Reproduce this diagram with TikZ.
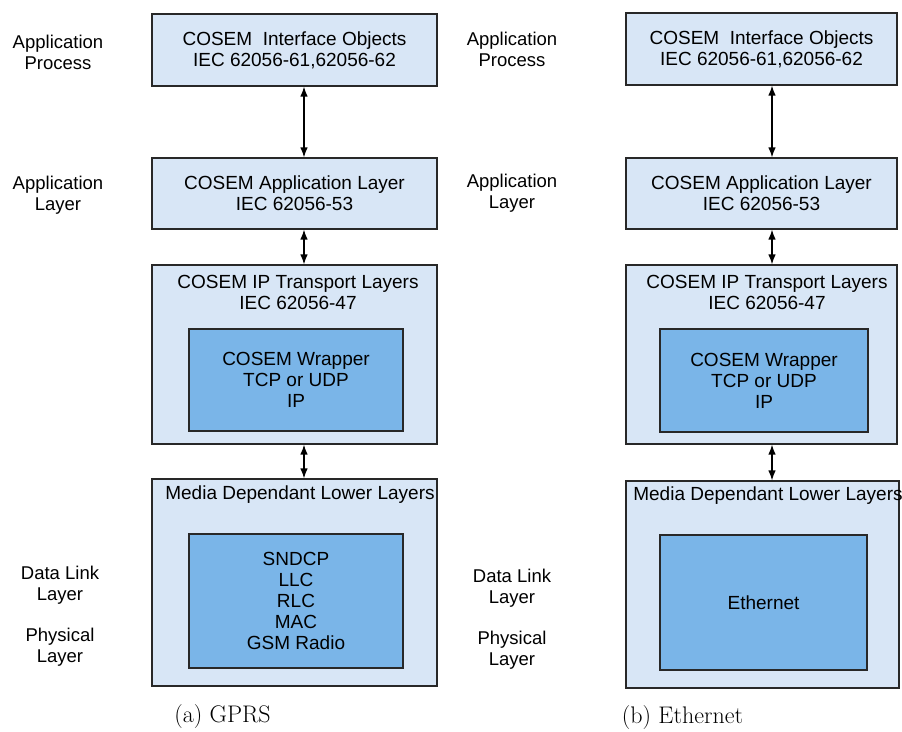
\documentclass[tikz,border=0pt]{standalone}
\usepackage{fontspec}
\newfontfamily\helv{Liberation Sans}
\usetikzlibrary{arrows.meta}
\definecolor{outerfill}{RGB}{216,230,246}
\definecolor{innerfill}{RGB}{122,181,232}
\definecolor{edgecol}{RGB}{40,40,40}
\tikzset{
  boxtext/.style={inner sep=0pt, align=center, font=\helv\fontsize{19}{21}\selectfont},
  labeltext/.style={inner sep=0pt, align=center, font=\helv\fontsize{18.5}{21}\selectfont},
  captext/.style={inner sep=0pt, font=\fontsize{24}{28}\selectfont},
  outerbox/.style={boxtext, draw=edgecol, fill=outerfill, line width=1.1pt, rectangle},
  innerbox/.style={boxtext, draw=edgecol, fill=innerfill, line width=1.1pt, rectangle},
  conn/.style={{Latex[length=10pt,width=7.5pt]}-{Latex[length=10pt,width=7.5pt]}, line width=1.3pt, black}
}
\begin{document}
\begin{tikzpicture}[x=1pt,y=-1pt]
\useasboundingbox (0,0) rectangle (902,731);
\fill[white] (0,0) rectangle (902,731);

% ---------- Left panel (GPRS) ----------
\node[outerbox, minimum width=285pt, minimum height=72pt] (L1) at (294.5,50)
  {COSEM\ \ Interface Objects\\IEC 62056-61,62056-62};
\node[outerbox, minimum width=285pt, minimum height=71pt] (L2) at (294.5,193.5)
  {COSEM Application Layer\\IEC 62056-53};
\node[outerbox, minimum width=285pt, minimum height=179pt] (L3) at (294.5,354.5) {};
\node[boxtext] (L3t) at (298,292) {COSEM IP Transport Layers\\IEC 62056-47};
\node[innerbox, minimum width=214pt, minimum height=102pt] (L3i) at (296,380)
  {COSEM Wrapper\\TCP or UDP\\IP};
\node[outerbox, minimum width=285pt, minimum height=207pt] (L4) at (294.5,582.5) {};
\node[boxtext] (L4t) at (300,495) {Media Dependant Lower Layers};
\node[innerbox, minimum width=214pt, minimum height=134pt] (L4i) at (296,601)
  {SNDCP\\LLC\\RLC\\MAC\\GSM Radio};

\coordinate (LA) at (304,0);
\draw[conn] (L1.south -| LA) -- (L2.north -| LA);
\draw[conn] (L2.south -| LA) -- (L3.north -| LA);
\draw[conn] (L3.south -| LA) -- (L4.north -| LA);

\node[labeltext] (LlabAP) at (58,52) {Application\\Process};
\node[labeltext] (LlabAL) at (58,195) {Application\\Layer};
\node[labeltext] (LlabDL) at (60,585) {Data Link\\Layer};
\node[labeltext] (LlabPL) at (60,647) {Physical\\Layer};
\node[captext] (Lcap) at (222.5,717) {(a) GPRS};

% ---------- Right panel (Ethernet) ----------
\node[outerbox, minimum width=271pt, minimum height=72pt] (R1) at (761.5,49)
  {COSEM\ \ Interface Objects\\IEC 62056-61,62056-62};
\node[outerbox, minimum width=271pt, minimum height=71pt] (R2) at (761.5,193.5)
  {COSEM Application Layer\\IEC 62056-53};
\node[outerbox, minimum width=271pt, minimum height=179pt] (R3) at (761.5,354.5) {};
\node[boxtext] (R3t) at (767,292) {COSEM IP Transport Layers\\IEC 62056-47};
\node[innerbox, minimum width=208pt, minimum height=103pt] (R3i) at (764,380.5)
  {COSEM Wrapper\\TCP or UDP\\IP};
\node[outerbox, minimum width=273pt, minimum height=207pt] (R4) at (762.5,584.5) {};
\node[boxtext] (R4t) at (768,496) {Media Dependant Lower Layers};
\node[innerbox, minimum width=207pt, minimum height=135pt] (R4i) at (763.5,602.5)
  {Ethernet};

\coordinate (RA) at (772,0);
\draw[conn] (R1.south -| RA) -- (R2.north -| RA);
\draw[conn] (R2.south -| RA) -- (R3.north -| RA);
\draw[conn] (R3.south -| RA) -- (R4.north -| RA);

\node[labeltext] (RlabAP) at (512,49) {Application\\Process};
\node[labeltext] (RlabAL) at (512,193) {Application\\Layer};
\node[labeltext] (RlabDL) at (512,588) {Data Link\\Layer};
\node[labeltext] (RlabPL) at (512,650) {Physical\\Layer};
\node[captext] (Rcap) at (682.5,718) {(b) Ethernet};
\end{tikzpicture}
\end{document}
